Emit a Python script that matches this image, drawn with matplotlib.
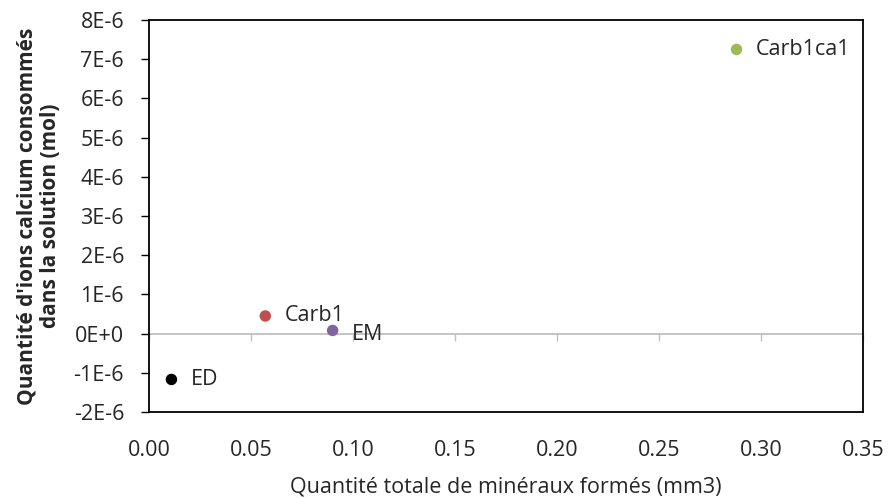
import math

import matplotlib
matplotlib.use('Agg')
import matplotlib.pyplot as plt
from matplotlib.ticker import FuncFormatter, MultipleLocator

# data
names = ['ED', 'Carb1', 'EM', 'Carb1ca1']
minerals = [0.011, 0.057, 0.090, 0.288]          # mm3
calcium = [-1.17e-6, 0.45e-6, 0.08e-6, 7.25e-6]  # mol
colors = ['#000000', '#C0504D', '#8064A2', '#9BBB59']
label_dy = [0, 0, -3, 0]  # small vertical nudge of labels (points)

plt.rcParams['font.family'] = ['Open Sans', 'DejaVu Sans']
txt = '#262626'

fig = plt.figure(figsize=(8.88, 4.98), dpi=100)
ax = fig.add_axes((149 / 888, 1 - 412 / 498, 714 / 888, 392 / 498))

ax.scatter(minerals, calcium, s=68, c=colors, zorder=3, linewidths=0)
for n, x, y, dy in zip(names, minerals, calcium, label_dy):
    ax.annotate(n, (x, y), xytext=(14, dy), textcoords='offset points',
                ha='left', va='center', fontsize=15.5, color=txt)

ax.set_xlim(0, 0.35)
ax.set_ylim(-2e-6, 8e-6)
ax.xaxis.set_major_locator(MultipleLocator(0.05))
ax.yaxis.set_major_locator(MultipleLocator(1e-6))


def sci(v, pos):
    # Excel style "0E+0" labels
    if abs(v) < 1e-12:
        return '0E+0'
    exp = math.floor(math.log10(abs(v)) + 1e-9)
    mant = v / 10 ** exp
    sign = '-' if exp < 0 else '+'
    return f'{mant:.0f}E{sign}{abs(exp)}'


ax.yaxis.set_major_formatter(FuncFormatter(sci))
ax.xaxis.set_major_formatter(FuncFormatter(lambda v, p: f'{v:.2f}'))

for sp in ax.spines.values():
    sp.set_color('black')
    sp.set_linewidth(1.3)

ax.tick_params(axis='x', length=0, pad=20, labelsize=15.5, colors=txt)
ax.tick_params(axis='y', length=6, width=1, direction='out', pad=12,
               labelsize=15.5, colors=txt)
ax.tick_params(axis='y', color='black')

# gray horizontal axis crossing at y = 0
sec = ax.secondary_xaxis(0.2)
sec.spines['bottom'].set_color('#BFBFBF')
sec.spines['bottom'].set_linewidth(1.3)
sec.xaxis.set_major_locator(MultipleLocator(0.05))
sec.tick_params(axis='x', length=5, width=1, color='#BFBFBF', labelbottom=False)

ax.set_xlabel('Quantité totale de minéraux formés (mm3)', fontsize=15.5,
              color=txt, labelpad=11)
ax.set_ylabel("Quantité d'ions calcium consommés\ndans la solution (mol)",
              fontsize=15, fontweight='bold', color=txt, labelpad=9,
              linespacing=1.15)

fig.savefig('out.png', dpi=100)
